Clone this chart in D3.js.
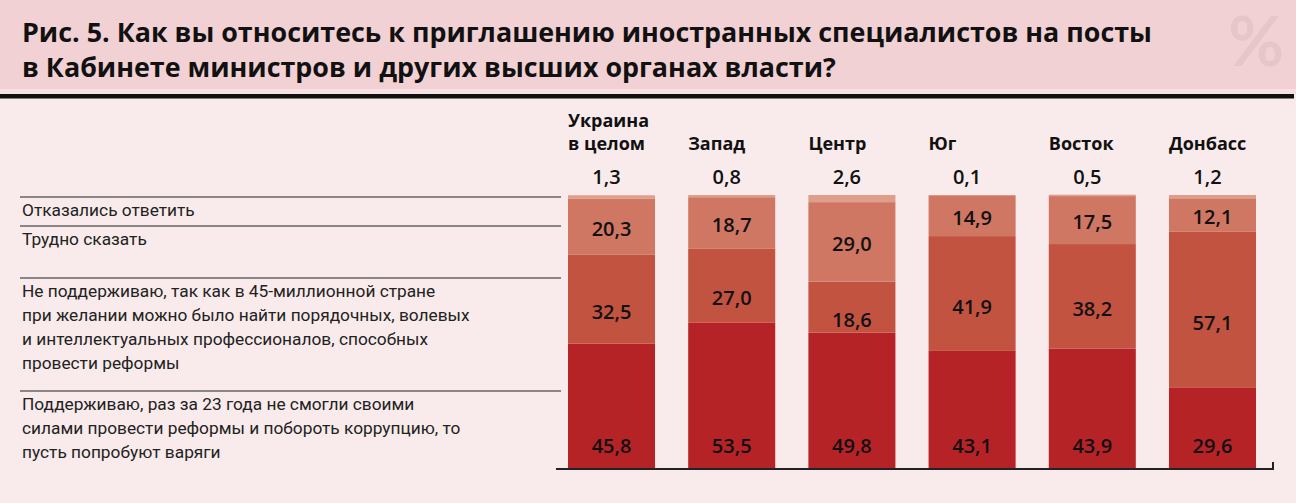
<!DOCTYPE html>
<html lang="ru">
  <head>
    <meta charset="UTF-8" />
    <title>Рис. 5</title>
    <script src="https://d3js.org/d3.v7.min.js"></script>
    <style>
      html, body { margin: 0; padding: 0; background: #f9ebeb; }
      svg { display: block; }
      .title { font-family: "Open Sans", sans-serif; font-weight: 700; fill: #111; }
      .cat { font-family: "Open Sans", sans-serif; font-weight: 700; font-size: 18px; fill: #111; }
      .val { font-family: "Open Sans", sans-serif; font-weight: 600; font-size: 20px; fill: #111; text-anchor: middle; }
      .row { font-family: Roboto, sans-serif; font-size: 17.3px; fill: #222; }
    </style>
  </head>
  <body>
    <script>
      const regions = ["Украина\nв целом", "Запад", "Центр", "Юг", "Восток", "Донбасс"];
      const keys = ["support", "against", "hard", "refused"];
      const support = [45.8, 53.5, 49.8, 43.1, 43.9, 29.6];
      const against = [32.5, 27.0, 18.6, 41.9, 38.2, 57.1];
      const hard = [20.3, 18.7, 29.0, 14.9, 17.5, 12.1];
      const refused = [1.3, 0.8, 2.6, 0.1, 0.5, 1.2];
      const colors = ["#b52327", "#c35341", "#cf7763", "#dd9f8c"];
      const rowLabels = [
        ["Отказались ответить"],
        ["Трудно сказать"],
        ["Не поддерживаю, так как в 45-миллионной стране",
         "при желании можно было найти порядочных, волевых",
         "и интеллектуальных профессионалов, способных",
         "провести реформы"],
        ["Поддерживаю, раз за 23 года не смогли своими",
         "силами провести реформы и побороть коррупцию, то",
         "пусть попробуют варяги"]
      ];
      const titleLines = [
        "Рис. 5. Как вы относитесь к приглашению иностранных специалистов на посты",
        "в Кабинете министров и других высших органах власти?"
      ];

      const W = 1296, H = 503;
      const fmt = v => d3.format(".1f")(v).replace(".", ",");

      const table = regions.map((r, i) => ({
        region: r, support: support[i], against: against[i], hard: hard[i], refused: refused[i]
      }));

      const svg = d3.select("body").append("svg").attr("width", W).attr("height", H);

      // header
      svg.append("rect").attr("width", W).attr("height", 89).attr("fill", "#f2d1d4");
      svg.append("rect").attr("y", 89).attr("width", W).attr("height", 5).attr("fill", "#f6e0e2");
      svg.append("rect").attr("y", 94).attr("width", 1294).attr("height", 4.5).attr("fill", "#111");
      svg.append("text").attr("x", 1256).attr("y", 66).attr("text-anchor", "middle")
        .style("font-family", "Lato, sans-serif").style("font-size", "68px").style("font-weight", 700)
        .attr("fill", "#e6c6c9").text("%");

      const title = svg.append("g");
      titleLines.forEach((t, i) => {
        title.append("text").attr("class", "title").attr("x", 22).attr("y", 42 + i * 35)
          .style("font-size", "24px").text(t);
      });
      // fit first title line to its width in the original
      const tw = title.select("text").node().getComputedTextLength();
      const fs = 24 * 1130 / tw;
      title.selectAll("text").style("font-size", fs + "px");

      const x = d3.scaleBand().domain(regions).range([568, 1256]).paddingInner(0.276);
      const y = d3.scaleLinear().domain([0, 100]).range([469, 195]);

      const series = d3.stack().keys(keys)(table);

      const layers = svg.selectAll("g.layer").data(series).join("g")
        .attr("class", "layer").attr("fill", (d, i) => colors[i]);
      layers.selectAll("rect").data(d => d).join("rect")
        .attr("x", d => x(d.data.region))
        .attr("width", x.bandwidth())
        .attr("y", d => y(d[1]))
        .attr("height", d => y(d[0]) - y(d[1]));

      // value labels inside segments
      const labelY = {
        support: d => y(0) - 16,
        against: d => (y(d[0]) + y(d[1])) / 2 + 20,
        hard: d => (y(d[0]) + y(d[1])) / 2 + 9,
        refused: d => y(100) - 11
      };
      series.forEach(s => {
        svg.append("g").selectAll("text").data(s).join("text")
          .attr("class", "val")
          .attr("x", d => x(d.data.region) + x.bandwidth() / 2 + (s.key === "refused" ? -5 : 0))
          .attr("y", labelY[s.key])
          .text(d => fmt(d.data[s.key]));
      });

      // category labels
      const cats = svg.append("g").selectAll("text").data(regions).join("text")
        .attr("class", "cat")
        .attr("x", d => x(d))
        .attr("y", 150);
      cats.each(function (d) {
        const parts = d.split("\n");
        const t = d3.select(this);
        parts.forEach((p, j) => {
          t.append("tspan").attr("x", x(d)).attr("y", 150 - (parts.length - 1 - j) * 23).text(p);
        });
      });

      // axis baseline
      svg.append("path")
        .attr("d", `M556,${y(0)}H1273V${y(0) - 7}`)
        .attr("fill", "none").attr("stroke", "#222").attr("stroke-width", 2);

      // left legend rows
      const sepY = [197, 226, 278, 391];
      const rows = svg.append("g");
      rowLabels.forEach((lines, i) => {
        rows.append("line").attr("x1", 20).attr("x2", 561)
          .attr("y1", sepY[i]).attr("y2", sepY[i])
          .attr("stroke", "#222").attr("stroke-width", 1.2);
        lines.forEach((l, j) => {
          rows.append("text").attr("class", "row").attr("x", 22)
            .attr("y", sepY[i] + 19 + j * 24).text(l);
        });
      });
    </script>
  </body>
</html>
